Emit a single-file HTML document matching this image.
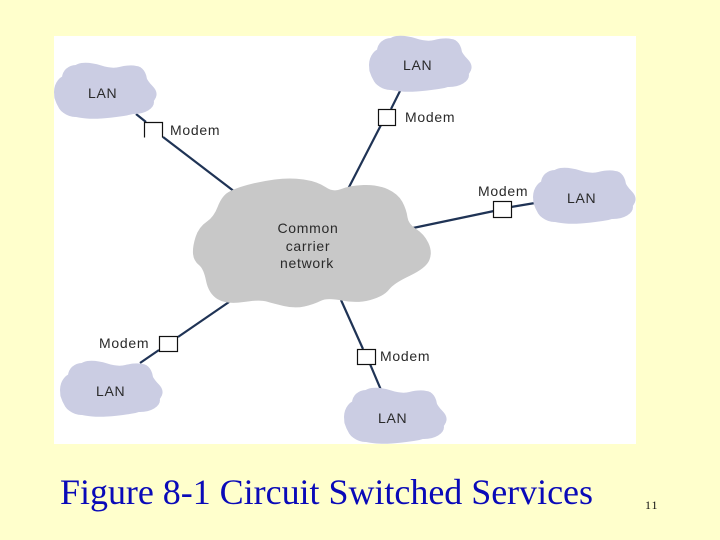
<!DOCTYPE html>
<html>
<head>
<meta charset="utf-8">
<style>
html,body{margin:0;padding:0;background:#ffffcc;}
svg{display:block;}
.t{font-family:"Liberation Sans",sans-serif;font-size:14px;letter-spacing:.7px;fill:#2a2a2a;}
</style>
</head>
<body>
<svg width="720" height="540" viewBox="0 0 720 540" xmlns="http://www.w3.org/2000/svg">
<defs>
<g id="c" fill="#cbcde3">
<path stroke="#cbcde3" stroke-width="2" stroke-linejoin="round" d="M1.5,34 Q0,29 9.5,15 Q19,1 27.5,0 Q36,-1 47,2.5 Q58,6 65.5,4 Q73,2 79.5,2.5 Q86,3 89.5,10.5 Q93,18 98,23 Q103,28 101,33 Q99,38 91,43.5 Q83,49 69.5,51 Q56,53 47.5,53.5 Q39,54 32.5,53.5 Q26,53 17.5,51 Q9,49 6,44 Q3,39 1.5,34 Z"/>
<ellipse cx="14" cy="28" rx="14" ry="17"/>
<ellipse cx="22" cy="38" rx="18" ry="15"/>
<ellipse cx="22" cy="14" rx="14" ry="13"/>
<ellipse cx="82" cy="17" rx="11" ry="15"/>
<ellipse cx="80" cy="38" rx="20" ry="12"/>
</g>
</defs>
<rect width="720" height="540" fill="#ffffcc"/>
<rect x="54" y="36" width="582" height="408" fill="#ffffff"/>

<g stroke="#1f3355" stroke-width="2.2" fill="none">
<line x1="136" y1="114" x2="146" y2="122"/>
<line x1="163" y1="137" x2="235" y2="192"/>
<line x1="401" y1="89" x2="391" y2="109"/>
<line x1="381" y1="125" x2="347" y2="191"/>
<line x1="413" y1="228" x2="494" y2="211"/>
<line x1="511" y1="207" x2="535" y2="203"/>
<line x1="229" y1="302" x2="178" y2="337"/>
<line x1="159" y1="350" x2="140" y2="363"/>
<line x1="341" y1="300" x2="363" y2="349"/>
<line x1="370" y1="364" x2="381" y2="390"/>
</g>

<use href="#c" x="54" y="64"/>
<use href="#c" x="369" y="37"/>
<use href="#c" x="533" y="169"/>
<use href="#c" x="60" y="362"/>
<use href="#c" x="344" y="389"/>

<path fill="#c8c8c8" stroke="#c8c8c8" stroke-width="3" stroke-linejoin="round" d="M194.5,253.5 Q194,247 197,237.5 Q200,228 207.5,223 Q215,218 219,207.5 Q223,197 229,193.5 Q235,190 247.5,186.5 Q260,183 275,181 Q290,179 303.5,181 Q317,183 325,188.5 Q333,194 341.5,190.5 Q350,187 363.5,186.5 Q377,186 387,190.5 Q397,195 401,202.5 Q405,210 406,217.5 Q407,225 415,230 Q423,235 427,243.5 Q431,252 428,259.5 Q425,267 409,274.5 Q393,282 388,288.5 Q383,295 370,298.5 Q357,302 342,299 Q327,296 320,299.5 Q313,303 304,305 Q295,307 284,304.5 Q273,302 266.5,300 Q260,298 243.5,300.5 Q227,303 218.5,298 Q210,293 207.5,280.5 Q205,268 200,264 Q195,260 194.5,253.5 Z"/>

<path d="M144.5,137.5 V122.5 H162.5 V137.5" fill="#fff" stroke="#111" stroke-width="1.2"/>
<rect x="378.5" y="109.5" width="17" height="16" fill="#fff" stroke="#111" stroke-width="1.2"/>
<rect x="493.5" y="201.5" width="18" height="16" fill="#fff" stroke="#111" stroke-width="1.2"/>
<rect x="159.5" y="336.5" width="18" height="15" fill="#fff" stroke="#111" stroke-width="1.2"/>
<rect x="357.5" y="349.5" width="18" height="15" fill="#fff" stroke="#111" stroke-width="1.2"/>

<text class="t" x="88" y="98">LAN</text>
<text class="t" x="403" y="70">LAN</text>
<text class="t" x="567" y="203">LAN</text>
<text class="t" x="96" y="396">LAN</text>
<text class="t" x="378" y="423">LAN</text>

<text class="t" x="170" y="135">Modem</text>
<text class="t" x="405" y="122">Modem</text>
<text class="t" x="478" y="196">Modem</text>
<text class="t" x="99" y="348">Modem</text>
<text class="t" x="380" y="361">Modem</text>

<text class="t" x="308" y="233" text-anchor="middle">Common</text>
<text class="t" x="308" y="251" text-anchor="middle">carrier</text>
<text class="t" x="307" y="268" text-anchor="middle">network</text>

<text x="60" y="504" font-family="'Liberation Serif',serif" font-size="36" fill="#0a0ab8" textLength="533" lengthAdjust="spacing">Figure 8-1 Circuit Switched Services</text>
<text x="645" y="509" font-family="'Liberation Serif',serif" font-size="12" fill="#111" letter-spacing="1">11</text>
</svg>
</body>
</html>
